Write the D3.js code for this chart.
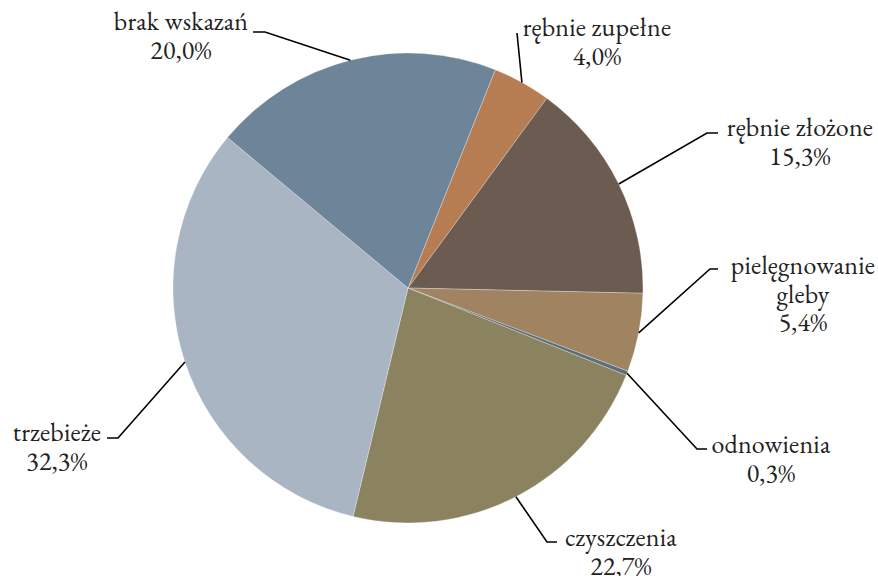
<!DOCTYPE html>
<html><head><meta charset="utf-8">
<script src="https://cdn.jsdelivr.net/npm/d3@7"></script>
<style>body{margin:0;background:#fff}svg{display:block}</style>
</head><body>
<svg id="c" width="878" height="576"></svg>
<script>
const categories = ["rębnie zupełne","rębnie złożone","pielęgnowanie gleby","odnowienia","czyszczenia","trzebieże","brak wskazań"];
const values = [4.0, 15.3, 5.4, 0.3, 22.7, 32.3, 20.0];
const colors = ["#B67D52","#6B5B50","#A08360","#5B6E79","#8B8260","#A9B5C2","#6E8599"];
const labelLines = [["rębnie zupełne"],["rębnie złożone"],["pielęgnowanie","gleby"],["odnowienia"],["czyszczenia"],["trzebieże"],["brak wskazań"]];
// label layout: text centre x, first line centre y, elbow, end of leader
const labelLayout = [
  {cx:597, cy:28, elbow:[517,33], end:[517,33]},
  {cx:800, cy:128, elbow:[707,133], end:[718,133]},
  {cx:803, cy:266, elbow:[710,269], end:[718,269]},
  {cx:771, cy:445, elbow:[697,449], end:[707,449]},
  {cx:621, cy:538, elbow:[547,542], end:[557,542]},
  {cx:57, cy:433, elbow:[118,438], end:[107,438]},
  {cx:181, cy:22, elbow:[265,32], end:[253,32]}
];
const fmt = v => v.toFixed(1).replace(".", ",") + "%";

const svg = d3.select("#c");
const cx = 408, cy = 288, R = 235;
const start = 21.8 * Math.PI / 180;
const pie = d3.pie().sort(null).value(d => d).startAngle(start).endAngle(start + 2*Math.PI);
const arcs = pie(values);
const arc = d3.arc().innerRadius(0).outerRadius(R);
const g = svg.append("g").attr("transform", `translate(${cx},${cy})`);
g.selectAll("path").data(arcs).join("path")
  .attr("d", arc).attr("fill", (d,i) => colors[i])
  .attr("stroke", "rgba(255,255,255,0.35)").attr("stroke-width", 0.8);

const lineH = 28.5;
arcs.forEach((a, i) => {
  const L = labelLayout[i];
  const m = (a.startAngle + a.endAngle) / 2;
  const p0 = [cx + R*Math.sin(m), cy - R*Math.cos(m)];
  svg.append("polyline")
    .attr("points", [p0, L.elbow, L.end].map(p => p.join(",")).join(" "))
    .attr("fill", "none").attr("stroke", "#000").attr("stroke-width", 1.6);
  const lines = labelLines[i].concat([fmt(values[i])]);
  const t = svg.append("text").attr("text-anchor", "middle")
    .style("font-family", '"EB Garamond", "Liberation Serif", serif')
    .style("font-size", "26px").style("letter-spacing", "0.2px").style("fill", "#222");
  lines.forEach((s, k) => {
    t.append("tspan").attr("x", L.cx).attr("y", L.cy + k*lineH).attr("dy", "0.32em").text(s);
  });
});
</script>
</body></html>
